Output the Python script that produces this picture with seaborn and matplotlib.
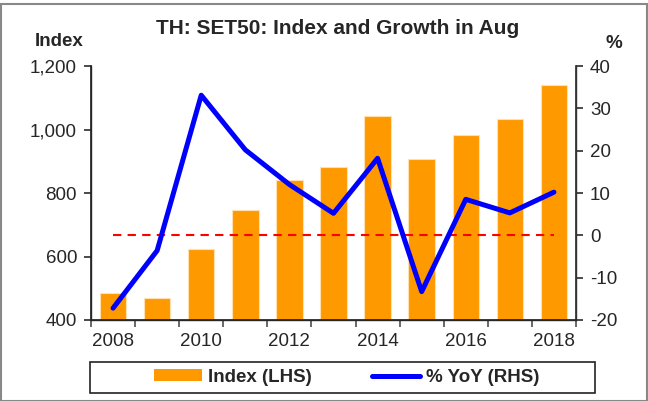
import matplotlib
matplotlib.use("Agg")
import matplotlib.pyplot as plt
import seaborn as sns
import numpy as np
import pandas as pd
from matplotlib.patches import Patch, Rectangle
from matplotlib.lines import Line2D

years = [2008, 2009, 2010, 2011, 2012, 2013, 2014, 2015, 2016, 2017, 2018]
index_vals = [485, 469, 623, 746, 841, 883, 1043, 906, 983, 1034, 1139]
yoy_vals = [-17.2, -3.6, 33.1, 20.2, 12.0, 5.2, 18.2, -13.3, 8.5, 5.3, 10.2]
left_ticks = [400, 600, 800, 1000, 1200]
right_ticks = [-20, -10, 0, 10, 20, 30, 40]
title = "TH: SET50: Index and Growth in Aug"

sns.set_theme(style="white")
plt.rcParams['font.family'] = ['Liberation Sans', 'DejaVu Sans']

df = pd.DataFrame({"year": [str(y) for y in years], "index": index_vals,
                   "yoy": yoy_vals, "pos": np.arange(len(years))})

TS = 13.5
fig = plt.figure(figsize=(6.48, 4.01), dpi=100)
ax = fig.add_axes([91/648, 1-320/401, (576-91)/648, (320-66)/401])
sns.barplot(data=df, x="year", y="index", color="#FF9900", saturation=1,
            width=0.6, ax=ax, edgecolor="#FFE0B0", linewidth=0.8)
ax.set_ylim(400, 1200)
ax.set_xlim(-0.5, len(years) - 0.5)
ax.set_yticks(left_ticks)
ax.set_yticklabels([f"{v:,}" for v in left_ticks], fontsize=TS)
ax.set_xticks(np.arange(len(years) + 1) - 0.5)
ax.set_xticklabels([])
ax.tick_params(axis="x", which="major", direction="out", length=5, color="#555555", bottom=True)
ax.tick_params(axis="y", direction="out", length=5, color="#333333", left=True, pad=5)
ax.set_xticks(np.arange(len(years)), minor=True)
ax.set_xticklabels([str(y) if i % 2 == 0 else "" for i, y in enumerate(years)], minor=True, fontsize=TS)
ax.tick_params(axis="x", which="minor", length=0, pad=9)
ax.set_xlabel("")
ax.set_ylabel("")
ax.spines["top"].set_visible(False)
for s in ["left", "bottom", "right"]:
    ax.spines[s].set_color("#333333")
    ax.spines[s].set_linewidth(1.0)

ax2 = ax.twinx()
ax2.hlines(0, df["pos"].iloc[0], df["pos"].iloc[-1], colors="#FF0000", linestyles=(0, (4, 3)), linewidth=1.5)
sns.lineplot(data=df, x="pos", y="yoy", color="#0000FF", linewidth=3.6, ax=ax2)
ax2.set_ylim(-20, 40)
ax2.set_xlim(-0.5, len(years) - 0.5)
ax2.set_yticks(right_ticks)
ax2.set_yticklabels([str(v) for v in right_ticks], fontsize=TS)
ax2.tick_params(axis="y", direction="out", length=5, color="#333333", right=True, pad=5)
ax2.set_ylabel("")
ax2.set_xlabel("")
ax2.spines["top"].set_visible(False)
ax2.spines["right"].set_color("#333333")
ax2.grid(False)
ax.grid(False)

fig.text(338/648, 1 - 29/401, title, ha="center", va="center", fontsize=15, fontweight="bold")
fig.text(59.5/648, 1 - 41/401, "Index", ha="center", va="center", fontsize=13.5, fontweight="bold")
fig.text(614/648, 1 - 44/401, "%", ha="center", va="center", fontsize=13.5, fontweight="bold")

handles = [Patch(facecolor="#FF9900", edgecolor="none"), Line2D([0], [0], color="#0000FF", linewidth=3.6)]
leg = fig.legend(handles, ["Index (LHS)", "% YoY (RHS)"], loc="center",
                 bbox_to_anchor=(346.5/648, 1 - 377.5/401), ncol=2,
                 frameon=False, prop={"weight": "bold", "size": 13.5},
                 handlelength=2.6, handleheight=0.6, columnspacing=3.2, handletextpad=0.3)
fig.patches.append(Rectangle((90/648, 1 - 393/401), (595-90)/648, 31/401, transform=fig.transFigure,
                             fill=False, edgecolor="#222222", linewidth=1.2))
fig.patches.append(Rectangle((1/648, 0), 646/648, 1 - 4/401, transform=fig.transFigure,
                             fill=False, edgecolor="#888888", linewidth=1.5))

fig.savefig("out.png", dpi=100)
